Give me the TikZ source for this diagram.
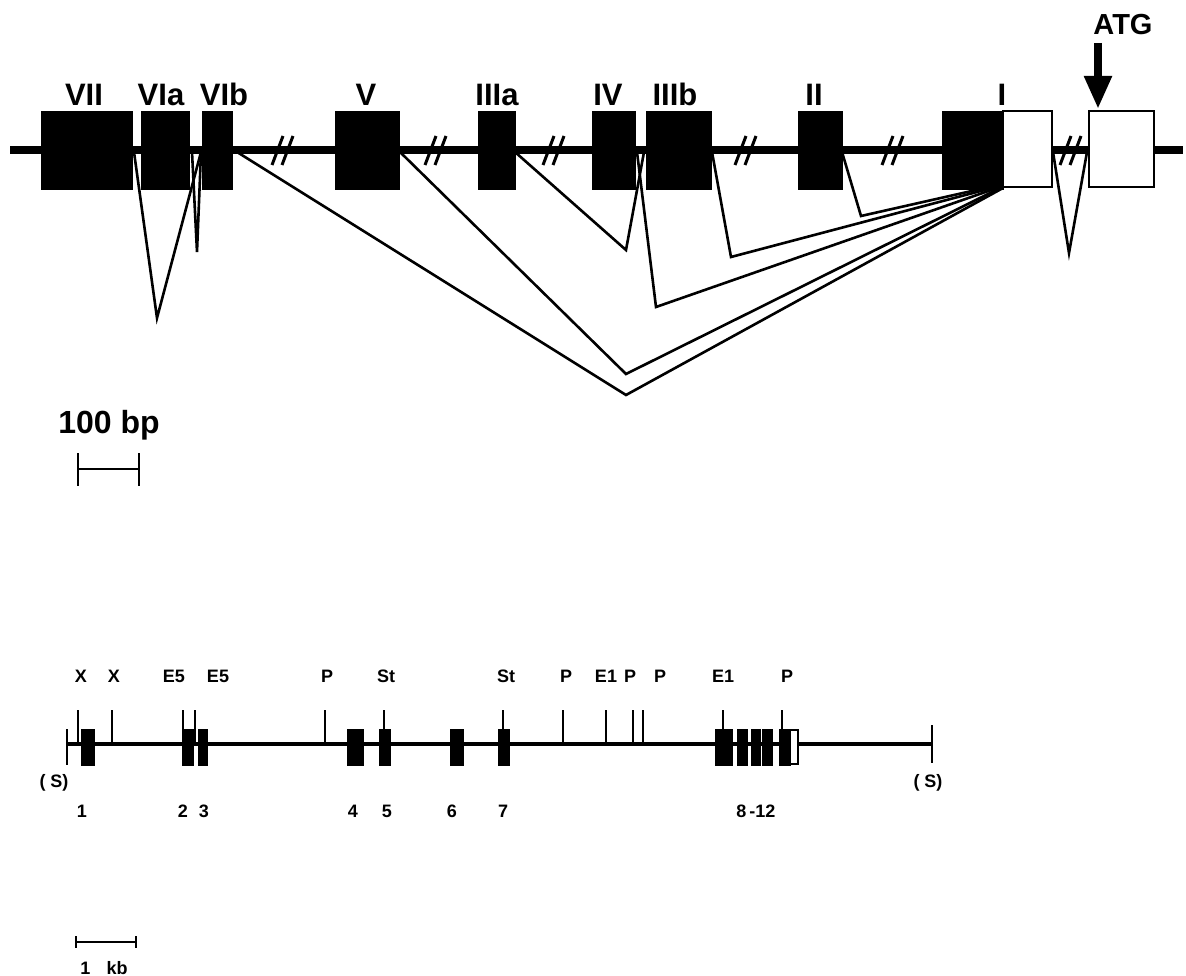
\documentclass[tikz,border=0pt]{standalone}
\usepackage{fontspec}
\setmainfont{Liberation Sans}
\usetikzlibrary{arrows.meta}
\begin{document}
\begin{tikzpicture}[x=1pt,y=-1pt,
  geneline/.style={line width=8pt},
  exonbox/.style={fill=black,draw=black,line width=0.5pt},
  utrbox/.style={fill=white,draw=black,line width=2.5pt},
  splice/.style={line width=2.6pt,line join=miter},
  brkmark/.style={line width=3pt},
  toplab/.style={font=\fontsize{31}{31}\selectfont\bfseries,anchor=base,inner sep=0pt},
  maplab/.style={font=\fontsize{18}{18}\selectfont\bfseries,anchor=base,inner sep=0pt},
  mapline/.style={line width=3.5pt},
  sitetick/.style={line width=2.2pt},
  mapexon/.style={fill=black,draw=black,line width=0.5pt},
  scalebar/.style={line width=2.5pt}]
\useasboundingbox (0,0) rectangle (1186,976);

% ---------- top: splicing lines ----------
\coordinate (aVII) at (134,152);
\coordinate (pA) at (157,318);
\coordinate (sVIb) at (201,152);
\coordinate (eVIa) at (192,152);
\coordinate (pB) at (197,252);
\coordinate (eVIb) at (237,152);
\coordinate (pC) at (626,395);
\coordinate (eV) at (400,152);
\coordinate (pD) at (626,374);
\coordinate (eIIIa) at (515,152);
\coordinate (pE) at (626,250);
\coordinate (sIIIb) at (644,152);
\coordinate (eIV) at (637,152);
\coordinate (pF) at (656,307);
\coordinate (eIIIb) at (712,152);
\coordinate (pG) at (731,257);
\coordinate (eII) at (842,152);
\coordinate (pH) at (861,216);
\coordinate (eIw) at (1053,152);
\coordinate (pK) at (1069,253);
\coordinate (sATG) at (1087,152);
\coordinate (jI1) at (1003,188);
\coordinate (jI2) at (1000,188);
\coordinate (jI3) at (997,188);
\coordinate (jI4) at (992,188);
\coordinate (jI5) at (985,188);

\draw[splice] (aVII) -- (pA) -- (sVIb);
\draw[splice] (eVIa) -- (pB) -- (sVIb);
\draw[splice] (eVIb) -- (pC) -- (jI1);
\draw[splice] (eV) -- (pD) -- (jI2);
\draw[splice] (eIIIa) -- (pE) -- (sIIIb);
\draw[splice] (eIV) -- (pF) -- (jI3);
\draw[splice] (eIIIb) -- (pG) -- (jI4);
\draw[splice] (eII) -- (pH) -- (jI5);
\draw[splice] (eIw) -- (pK) -- (sATG);

% ---------- top: gene line ----------
\coordinate (gL) at (10,150);
\coordinate (gR) at (1183,150);
\draw[geneline] (gL) -- (gR);

% break marks
\foreach \c in {283,436,554,746,893,1071}{
  \draw[brkmark] (\c-11,165) -- (\c,136);
  \draw[brkmark] (\c-1,165) -- (\c+10,136);
}

% exons
\draw[exonbox] (41,111) rectangle (132,189);
\draw[exonbox] (141,111) rectangle (189,189);
\draw[exonbox] (202,111) rectangle (232,189);
\draw[exonbox] (335,111) rectangle (399,189);
\draw[exonbox] (478,111) rectangle (515,189);
\draw[exonbox] (592,111) rectangle (635,189);
\draw[exonbox] (646,111) rectangle (711,189);
\draw[exonbox] (798,111) rectangle (842,189);
\draw[exonbox] (942,111) rectangle (1003,189);
\draw[utrbox] (1003,111) rectangle (1052,187);
\draw[utrbox] (1089,111) rectangle (1154,187);

% labels
\node[toplab] (lVII) at (84,106) {VII};
\node[toplab] (lVIa) at (161,106) {VIa};
\node[toplab] (lVIb) at (224,106) {VIb};
\node[toplab] (lV) at (366,106) {V};
\node[toplab] (lIIIa) at (497,106) {IIIa};
\node[toplab] (lIV) at (608,106) {IV};
\node[toplab] (lIIIb) at (675,106) {IIIb};
\node[toplab] (lII) at (814,106) {II};
\node[toplab] (lI) at (1002,106) {I};
\node[font=\fontsize{29}{29}\selectfont\bfseries,anchor=base,inner sep=0pt] (lATG) at (1123,35) {ATG};
\coordinate (arrS) at (1098,43);
\coordinate (arrE) at (1098,109);
\draw[line width=8pt,-{Triangle[length=33pt,width=26pt]}] (arrS) -- (arrE);

% scale 100 bp
\node[font=\fontsize{32}{32}\selectfont\bfseries,anchor=base,inner sep=0pt] (lbp) at (109,433) {100 bp};
\coordinate (bpL) at (78,469);
\coordinate (bpR) at (139,469);
\draw[scalebar] (bpL) -- (bpR);
\draw[scalebar] (78,453) -- (78,486);
\draw[scalebar] (139,453) -- (139,486);

% ---------- bottom: restriction map ----------
\coordinate (mL) at (67,744);
\coordinate (mR) at (932,744);
\draw[mapline] (mL) -- (mR);
\draw[sitetick] (67,729) -- (67,765);
\draw[sitetick] (932,725) -- (932,763);

\foreach \x/\t/\lx in {78/X/81, 112/X/114, 183/E5/174, 195/E5/218, 325/P/327, 384/St/386, 503/St/506, 563/P/566, 606/E1/606, 633/P/630, 643/P/660, 723/E1/723, 782/P/787}{
  \draw[sitetick] (\x,710) -- (\x,744);
  \node[maplab] at (\lx,682) {\t};
}

% map exons
\foreach \a/\b in {81/94, 182/193, 198/207, 347/363, 379/390, 450/463, 498/509, 715/732, 737/747, 751/760, 762/772, 779/790}{
  \draw[mapexon] (\a,729) rectangle (\b,765);
}
\draw[fill=white,draw=black,line width=2pt] (790,730) rectangle (798,764);

% map labels
\node[maplab] (sl) at (54,787) {( S)};
\node[maplab] (sr) at (928,787) {( S)};
\foreach \x/\t in {82/1, 183/2, 204/3, 353/4, 387/5, 452/6, 503/7, 756/8\,-12}{
  \node[maplab] at (\x,817) {\t};
}

% scale 1 kb
\coordinate (kbL) at (76,942);
\coordinate (kbR) at (136,942);
\draw[line width=2pt] (kbL) -- (kbR);
\draw[line width=2pt] (76,936) -- (76,948);
\draw[line width=2pt] (136,936) -- (136,948);
\node[maplab] (lkb) at (104,974) {1\hspace{0.9em}kb};
\end{tikzpicture}
\end{document}
